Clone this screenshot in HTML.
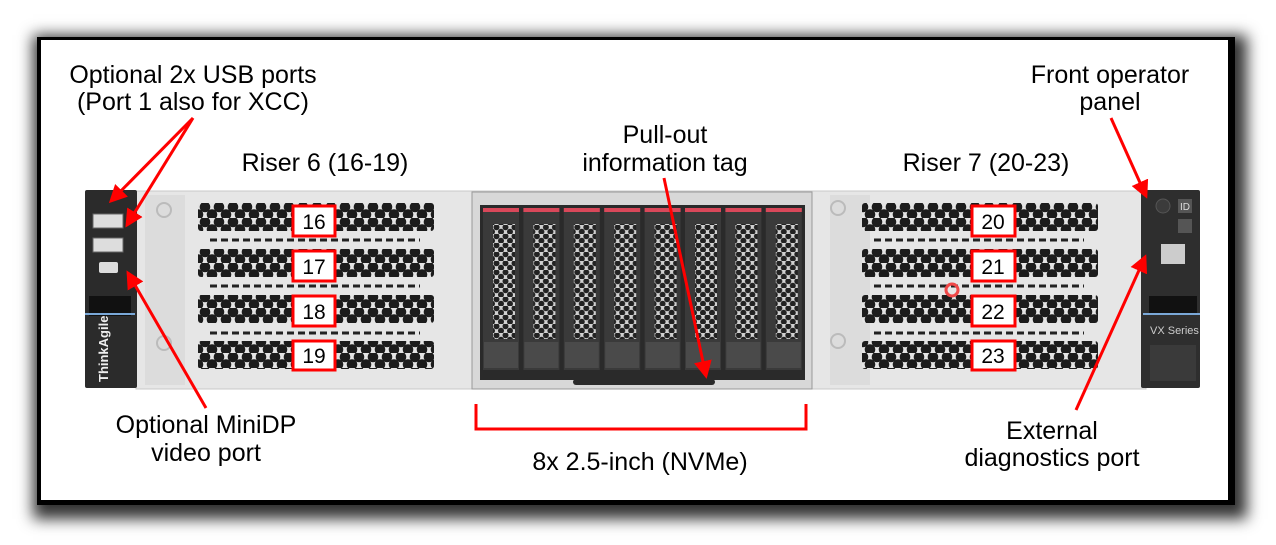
<!DOCTYPE html>
<html><head><meta charset="utf-8"><style>
html,body{margin:0;padding:0;background:#fff;width:1276px;height:545px;overflow:hidden}
.frame{position:absolute;left:37px;top:37px;width:1198px;height:468px;background:#000;box-shadow:4px 6px 14px 8px rgba(0,0,0,0.8)}
.inner{position:absolute;left:41px;top:40px;width:1187px;height:460px;background:#fff}
svg{position:absolute;left:0;top:0}
text{font-family:"Liberation Sans",Arial,sans-serif}
</style></head><body>
<div class="frame"></div><div class="inner"></div>
<svg width="1276" height="545" viewBox="0 0 1276 545">
<defs>
<pattern id="hex" x="198" y="203" width="14" height="15" patternUnits="userSpaceOnUse">
<rect width="14" height="15" fill="#e4e4e4"/>
<circle cx="7" cy="4" r="5.3" fill="#1c1c1c"/>
<circle cx="0" cy="11.5" r="5.3" fill="#1c1c1c"/>
<circle cx="14" cy="11.5" r="5.3" fill="#1c1c1c"/>
</pattern>
<pattern id="dhex" x="0" y="0" width="9" height="9" patternUnits="userSpaceOnUse">
<rect width="9" height="9" fill="#d0d0d0"/>
<circle cx="4.5" cy="2.2" r="3" fill="#222"/>
<circle cx="0" cy="6.7" r="3" fill="#222"/>
<circle cx="9" cy="6.7" r="3" fill="#222"/>
</pattern>
<marker id="ah" markerWidth="6" markerHeight="6" refX="5" refY="3" orient="auto" markerUnits="strokeWidth">
<path d="M0,0 L6,3 L0,6 z" fill="#f00"/></marker>
</defs>

<rect x="136" y="191" width="1010" height="198" fill="#e6e6e6" stroke="#c8c8c8"/>
<rect x="145" y="195" width="40" height="190" fill="#dcdcdc"/>
<rect x="830" y="195" width="40" height="190" fill="#dcdcdc"/>
<circle cx="164" cy="210" r="7" fill="none" stroke="#bbb" stroke-width="2"/>
<circle cx="164" cy="343" r="7" fill="none" stroke="#bbb" stroke-width="2"/>
<circle cx="838" cy="208" r="7" fill="none" stroke="#bbb" stroke-width="2"/>
<circle cx="838" cy="341" r="7" fill="none" stroke="#bbb" stroke-width="2"/>

<g>
<rect x="198" y="203" width="236" height="28" rx="3" fill="url(#hex)"/>
<rect x="198" y="249" width="236" height="28" rx="3" fill="url(#hex)"/>
<rect x="198" y="295" width="236" height="28" rx="3" fill="url(#hex)"/>
<rect x="198" y="341" width="236" height="28" rx="3" fill="url(#hex)"/>
<line x1="210" y1="240" x2="420" y2="240" stroke="#222" stroke-width="3" stroke-dasharray="7,4"/>
<line x1="210" y1="286" x2="420" y2="286" stroke="#222" stroke-width="3" stroke-dasharray="7,4"/>
<line x1="210" y1="333" x2="420" y2="333" stroke="#222" stroke-width="3" stroke-dasharray="7,4"/>
</g>
<g>
<rect x="862" y="203" width="236" height="28" rx="3" fill="url(#hex)"/>
<rect x="862" y="249" width="236" height="28" rx="3" fill="url(#hex)"/>
<rect x="862" y="295" width="236" height="28" rx="3" fill="url(#hex)"/>
<rect x="862" y="341" width="236" height="28" rx="3" fill="url(#hex)"/>
<line x1="874" y1="240" x2="1084" y2="240" stroke="#222" stroke-width="3" stroke-dasharray="7,4"/>
<line x1="874" y1="286" x2="1084" y2="286" stroke="#222" stroke-width="3" stroke-dasharray="7,4"/>
<line x1="874" y1="333" x2="1084" y2="333" stroke="#222" stroke-width="3" stroke-dasharray="7,4"/>
</g>

<rect x="472" y="192" width="340" height="197" fill="#d8d8d8" stroke="#999"/>
<rect x="480" y="205" width="325" height="175" fill="#2a2a2a"/>
<g>
<g transform="translate(483,0)"><rect x="0" y="208" width="36" height="162" fill="#3a3a3a"/><rect x="0" y="208" width="36" height="4" fill="#d9485a"/><rect x="10" y="224" width="22" height="115" fill="url(#dhex)"/><rect x="1" y="342" width="34" height="26" fill="#4a4a4a"/></g>
<g transform="translate(523.4,0)"><rect x="0" y="208" width="36" height="162" fill="#3a3a3a"/><rect x="0" y="208" width="36" height="4" fill="#d9485a"/><rect x="10" y="224" width="22" height="115" fill="url(#dhex)"/><rect x="1" y="342" width="34" height="26" fill="#4a4a4a"/></g>
<g transform="translate(563.8,0)"><rect x="0" y="208" width="36" height="162" fill="#3a3a3a"/><rect x="0" y="208" width="36" height="4" fill="#d9485a"/><rect x="10" y="224" width="22" height="115" fill="url(#dhex)"/><rect x="1" y="342" width="34" height="26" fill="#4a4a4a"/></g>
<g transform="translate(604.2,0)"><rect x="0" y="208" width="36" height="162" fill="#3a3a3a"/><rect x="0" y="208" width="36" height="4" fill="#d9485a"/><rect x="10" y="224" width="22" height="115" fill="url(#dhex)"/><rect x="1" y="342" width="34" height="26" fill="#4a4a4a"/></g>
<g transform="translate(644.6,0)"><rect x="0" y="208" width="36" height="162" fill="#3a3a3a"/><rect x="0" y="208" width="36" height="4" fill="#d9485a"/><rect x="10" y="224" width="22" height="115" fill="url(#dhex)"/><rect x="1" y="342" width="34" height="26" fill="#4a4a4a"/></g>
<g transform="translate(685,0)"><rect x="0" y="208" width="36" height="162" fill="#3a3a3a"/><rect x="0" y="208" width="36" height="4" fill="#d9485a"/><rect x="10" y="224" width="22" height="115" fill="url(#dhex)"/><rect x="1" y="342" width="34" height="26" fill="#4a4a4a"/></g>
<g transform="translate(725.4,0)"><rect x="0" y="208" width="36" height="162" fill="#3a3a3a"/><rect x="0" y="208" width="36" height="4" fill="#d9485a"/><rect x="10" y="224" width="22" height="115" fill="url(#dhex)"/><rect x="1" y="342" width="34" height="26" fill="#4a4a4a"/></g>
<g transform="translate(765.8,0)"><rect x="0" y="208" width="36" height="162" fill="#3a3a3a"/><rect x="0" y="208" width="36" height="4" fill="#d9485a"/><rect x="10" y="224" width="22" height="115" fill="url(#dhex)"/><rect x="1" y="342" width="34" height="26" fill="#4a4a4a"/></g>
</g>
<rect x="573" y="379" width="142" height="6" rx="3" fill="#2a2a2a"/>

<rect x="85" y="190" width="52" height="198" rx="2" fill="#2b2b2b"/>
<rect x="93" y="214" width="30" height="14" fill="#ddd" stroke="#666"/>
<rect x="93" y="238" width="30" height="14" fill="#ddd" stroke="#666"/>
<rect x="99" y="262" width="19" height="11" rx="2" fill="#ddd"/>
<rect x="89" y="296" width="42" height="20" fill="#111"/>
<rect x="85" y="313" width="50" height="2" fill="#7aa8d8"/>
<text transform="translate(108,382) rotate(-90)" font-size="13" fill="#eee" font-weight="bold">ThinkAgile</text>

<rect x="1141" y="190" width="59" height="198" rx="2" fill="#2e2e2e"/>
<circle cx="1163" cy="206" r="7" fill="#3b3b3b" stroke="#555"/>
<rect x="1178" y="199" width="14" height="14" fill="#555"/>
<text x="1180" y="210" font-size="10" fill="#ddd">ID</text>
<rect x="1178" y="219" width="14" height="14" fill="#555"/>
<rect x="1161" y="244" width="24" height="20" fill="#ccc"/>
<rect x="1149" y="296" width="48" height="18" fill="#111"/>
<rect x="1143" y="313" width="57" height="2" fill="#7aa8d8"/>
<text x="1150" y="334" font-size="11" fill="#ccc">VX Series</text>
<rect x="1150" y="345" width="46" height="36" fill="#3a3a3a"/>

<circle cx="952" cy="290" r="6" fill="none" stroke="#f04848" stroke-width="3"/>

<g font-size="21" text-anchor="middle" fill="#000">
<rect x="293" y="206" width="42" height="30" fill="#fff" stroke="#f00" stroke-width="3"/><text x="314" y="229">16</text>
<rect x="293" y="251" width="42" height="30" fill="#fff" stroke="#f00" stroke-width="3"/><text x="314" y="274">17</text>
<rect x="293" y="296" width="42" height="30" fill="#fff" stroke="#f00" stroke-width="3"/><text x="314" y="319">18</text>
<rect x="293" y="341" width="42" height="29" fill="#fff" stroke="#f00" stroke-width="3"/><text x="314" y="363">19</text>
<rect x="972" y="206" width="43" height="30" fill="#fff" stroke="#f00" stroke-width="3"/><text x="993" y="229">20</text>
<rect x="972" y="251" width="43" height="30" fill="#fff" stroke="#f00" stroke-width="3"/><text x="993" y="274">21</text>
<rect x="972" y="296" width="43" height="30" fill="#fff" stroke="#f00" stroke-width="3"/><text x="993" y="319">22</text>
<rect x="972" y="341" width="43" height="29" fill="#fff" stroke="#f00" stroke-width="3"/><text x="993" y="363">23</text>
</g>

<g stroke="#f00" stroke-width="3" fill="none">
<line x1="193" y1="118" x2="111" y2="201" marker-end="url(#ah)"/>
<line x1="193" y1="118" x2="127" y2="225" marker-end="url(#ah)"/>
<line x1="206" y1="408" x2="128" y2="273" marker-end="url(#ah)"/>
<line x1="664" y1="178" x2="706" y2="376" marker-end="url(#ah)"/>
<line x1="1111" y1="118" x2="1146" y2="196" marker-end="url(#ah)"/>
<line x1="1076" y1="410" x2="1145" y2="257" marker-end="url(#ah)"/>
<polyline points="476,404 476,429 806,429 806,404"/>
</g>

<g font-size="25" text-anchor="middle" fill="#000">
<text x="193" y="83">Optional 2x USB ports</text>
<text x="193" y="110">(Port 1 also for XCC)</text>
<text x="325" y="171">Riser 6 (16-19)</text>
<text x="665" y="143">Pull-out</text>
<text x="665" y="171">information tag</text>
<text x="986" y="171">Riser 7 (20-23)</text>
<text x="1110" y="83">Front operator</text>
<text x="1110" y="110">panel</text>
<text x="206" y="433">Optional MiniDP</text>
<text x="206" y="461">video port</text>
<text x="640" y="470">8x 2.5-inch (NVMe)</text>
<text x="1052" y="439">External</text>
<text x="1052" y="466">diagnostics port</text>
</g>
</svg>
</body></html>
